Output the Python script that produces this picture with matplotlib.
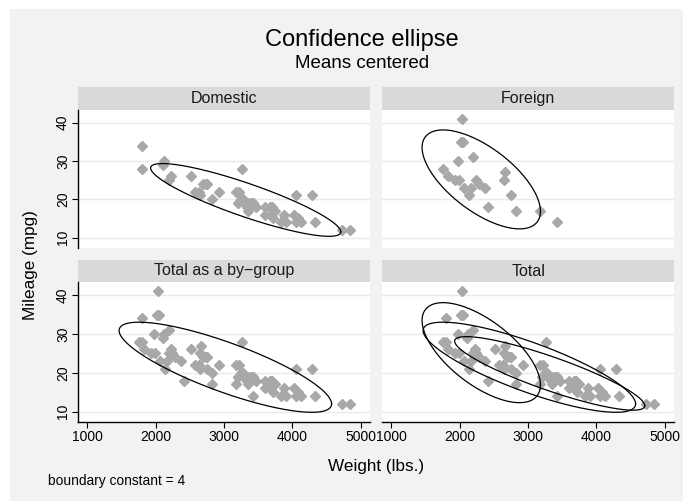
import numpy as np
import matplotlib
matplotlib.use("Agg")
import matplotlib.pyplot as plt
from matplotlib.patches import Rectangle

plt.rcParams['font.family'] = ['Liberation Sans', 'DejaVu Sans']

# auto data: weight (lbs.) and mileage (mpg)
dom_weight = [2930, 3350, 2640, 3250, 4080, 3670, 2230, 3280, 3880, 3400,
              4330, 3900, 4290, 2110, 3690, 3180, 3220, 2750, 3430, 2120,
              3600, 3600, 3740, 1800, 2650, 4840, 4720, 3830, 2580, 4060,
              3720, 3370, 4130, 2830, 4060, 3310, 3300, 3690, 3370, 2730,
              4030, 3260, 1800, 2200, 2520, 3330, 3700, 3470, 3210, 3200,
              3420, 2690]
dom_mpg = [22, 17, 22, 20, 15, 18, 26, 20, 16, 19,
           14, 14, 21, 29, 16, 22, 22, 24, 19, 30,
           18, 16, 17, 28, 21, 12, 12, 14, 22, 14,
           15, 18, 14, 20, 21, 19, 19, 18, 19, 24,
           16, 28, 34, 25, 26, 18, 18, 18, 19, 19,
           19, 24]
for_weight = [2830, 2070, 2650, 2370, 2020, 2280, 2750, 2130, 2240, 1760,
              1980, 3420, 1830, 2050, 2410, 2200, 2670, 2160, 2040, 1930,
              1990, 3170]
for_mpg = [17, 23, 25, 23, 35, 24, 21, 21, 25, 28,
           30, 14, 26, 35, 18, 31, 27, 23, 41, 25,
           25, 17]

panel_titles = ["Domestic", "Foreign", "Total as a by\u2212group", "Total"]
boundary_c = 4
x_ticks = [1000, 2000, 3000, 4000, 5000]
y_ticks = [10, 20, 30, 40]

W, H = 683, 501
MARK = '#a8a8a8'
BG = '#f2f2f2'
STRIP = '#d9d9d9'


def ellipse(x, y, c):
    x = np.asarray(x, float)
    y = np.asarray(y, float)
    S = np.cov(x, y)
    L = np.linalg.cholesky(S)
    t = np.linspace(0, 2 * np.pi, 300)
    u = np.sqrt(c) * (L @ np.vstack([np.cos(t), np.sin(t)]))
    return x.mean() + u[0], y.mean() + u[1]


def px_axes(fig, x0, y0, x1, y1):
    # pixel box (top-left origin) -> figure axes
    return fig.add_axes([x0 / W, (H - y1) / H, (x1 - x0) / W, (y1 - y0) / H])


fig = plt.figure(figsize=(W / 100, H / 100), dpi=100)
fig.patch.set_facecolor('white')
fig.patches.append(Rectangle((10 / W, 0), 1 - 10 / W, (H - 9) / H,
                             transform=fig.transFigure, facecolor=BG,
                             edgecolor='none', zorder=-10))

all_w = dom_weight + for_weight
all_m = dom_mpg + for_mpg

panels = [
    (dom_weight, dom_mpg, [(dom_weight, dom_mpg)]),
    (for_weight, for_mpg, [(for_weight, for_mpg)]),
    (all_w, all_m, [(all_w, all_m)]),
    (all_w, all_m, [(dom_weight, dom_mpg), (for_weight, for_mpg), (all_w, all_m)]),
]

cols = [(78.3, 370.0), (382.3, 674.0)]
rows = [(87.0, 109.5, 248.0), (260.0, 282.0, 422.0)]

for k, (px, py, ells) in enumerate(panels):
    r, c = divmod(k, 2)
    x0, x1 = cols[c]
    st, pt, pb = rows[r]

    sax = px_axes(fig, x0, st, x1, pt)
    sax.set_facecolor(STRIP)
    sax.set_xticks([])
    sax.set_yticks([])
    for s in sax.spines.values():
        s.set_visible(False)
    sax.text(0.5, 0.5, panel_titles[k], ha='center', va='center',
             fontsize=11.5, color='#1a1a1a', transform=sax.transAxes)

    ax = px_axes(fig, x0, pt, x1, pb)
    ax.set_facecolor('white')
    ax.set_xlim(868, 5136)
    ax.set_ylim(7.3, 43.4)
    for yv in y_ticks:
        ax.axhline(yv, color='#eaeaea', lw=1.0, zorder=0)
    ax.plot(px, py, 'D', ms=4.8, color=MARK, mec=MARK, zorder=2,
            linestyle='none')
    for ex, ey in ells:
        exs, eys = ellipse(ex, ey, boundary_c)
        ax.plot(exs, eys, color='black', lw=0.9, zorder=3)

    for s in ax.spines.values():
        s.set_visible(False)
    ax.set_xticks(x_ticks)
    ax.set_yticks(y_ticks)
    ax.tick_params(direction='out', length=4, width=0.8, color='black',
                   labelsize=10, pad=2)
    if c == 0:
        ax.spines['left'].set_visible(True)
        ax.spines['left'].set_linewidth(1.0)
        ax.set_yticklabels([str(v) for v in y_ticks], rotation=90, va='center')
    else:
        ax.tick_params(axis='y', left=False, labelleft=False)
    if r == 1:
        ax.spines['bottom'].set_visible(True)
        ax.spines['bottom'].set_linewidth(1.0)
    else:
        ax.tick_params(axis='x', bottom=False, labelbottom=False)

fig.text(362 / W, 1 - 40 / H, "Confidence ellipse", ha='center', va='center',
         fontsize=17, color='black')
fig.text(362 / W, 1 - 64 / H, "Means centered", ha='center', va='center',
         fontsize=13.5, color='black')
fig.text(30 / W, 1 - 265.5 / H, "Mileage (mpg)", ha='center', va='center',
         rotation=90, fontsize=12.3, color='black')
fig.text(376 / W, 1 - 466 / H, "Weight (lbs.)", ha='center', va='center',
         fontsize=12.3, color='black')
fig.text(48 / W, 1 - 481 / H, "boundary constant = %d" % boundary_c,
         ha='left', va='center', fontsize=9.9, color='black')

fig.savefig("out.png", dpi=100, facecolor=fig.get_facecolor())
